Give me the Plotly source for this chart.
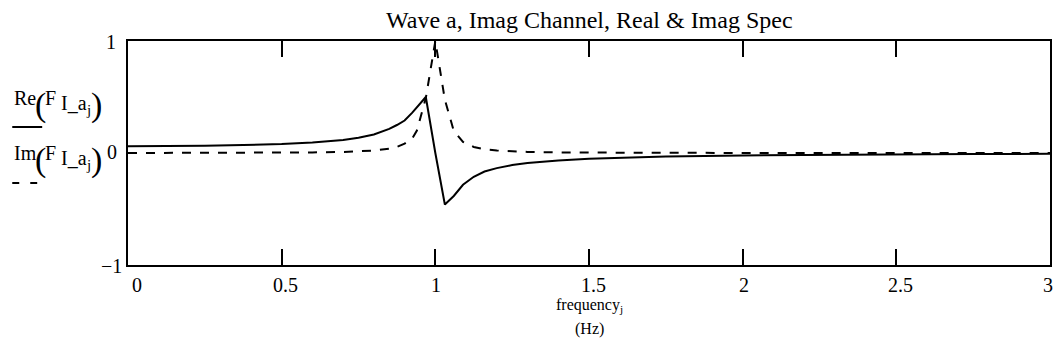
import plotly.graph_objects as go

# frequency samples (Hz) and read-off values
freq = [0.0, 0.25, 0.5, 0.6, 0.7, 0.75, 0.8, 0.85, 0.875, 0.9, 0.925, 0.94, 0.969,
        1.0, 1.031, 1.06, 1.09, 1.125, 1.16, 1.2, 1.25, 1.3, 1.4, 1.5, 1.6, 1.75,
        2.0, 2.25, 2.5, 2.75, 3.0]
re_vals = [0.06, 0.064, 0.08, 0.093, 0.117, 0.136, 0.165, 0.215, 0.25, 0.29, 0.36, 0.41, 0.50,
           0.0, -0.46, -0.384, -0.284, -0.212, -0.165, -0.135, -0.108, -0.09, -0.066, -0.052, -0.042, -0.032,
           -0.022, -0.016, -0.012, -0.009, -0.0075]
im_vals = [0.0, 0.001, 0.003, 0.005, 0.0096, 0.014, 0.022, 0.038, 0.055, 0.083, 0.13, 0.20, 0.49,
           1.0, 0.476, 0.197, 0.099, 0.054, 0.034, 0.022, 0.014, 0.0097, 0.0054, 0.0034, 0.0024, 0.0015,
           0.0008, 0.0005, 0.0003, 0.0002, 0.0002]

x_ticks = [0, 0.5, 1, 1.5, 2, 2.5, 3]
x_tick_text = ["0", "0.5", "1", "1.5", "2", "2.5", "3"]
y_ticks = [-1, 0, 1]
y_tick_text = ["\u22121", "0", "1"]

title = "Wave a, Imag Channel, Real & Imag Spec"
FONT = "Liberation Serif, Times New Roman, serif"

W, H = 1058, 363
L, R, T, B = 128, 1052, 41, 265


def px(x):
    return (x - L) / (R - L)


def py(y):
    return (B - y) / (B - T)


fig = go.Figure()
fig.add_trace(go.Scatter(x=freq, y=re_vals, mode="lines",
                         line=dict(color="black", width=2), showlegend=False))
fig.add_trace(go.Scatter(x=freq, y=im_vals, mode="lines",
                         line=dict(color="black", width=2, dash="9px,9px"), showlegend=False))

fig.update_layout(
    width=W, height=H,
    margin=dict(l=L, r=W - R, t=T, b=H - B, pad=0),
    paper_bgcolor="white", plot_bgcolor="white",
    font=dict(family=FONT, color="black", size=20),
    showlegend=False,
)
fig.update_xaxes(range=[0, 3], showgrid=False, zeroline=False, showline=True,
                 linecolor="black", linewidth=2, mirror="ticks",
                 ticks="inside", ticklen=16, tickwidth=2, tickcolor="black",
                 tickvals=x_ticks, showticklabels=False)
fig.update_yaxes(range=[-1, 1], showgrid=False, zeroline=False, showline=True,
                 linecolor="black", linewidth=2, mirror=True, ticks="",
                 tickvals=y_ticks, showticklabels=False)

ann = []


def txt(x, y, t, size, xanchor="left", yanchor="middle", **kw):
    ann.append(dict(x=px(x), y=py(y), xref="paper", yref="paper", text=t,
                    showarrow=False, xanchor=xanchor, yanchor=yanchor,
                    font=dict(size=size, family=FONT, color="black"), **kw))


x_shifts = [9, 4, 1, 5, 1, 4, -2]
for v, t, s in zip(x_ticks, x_tick_text, x_shifts):
    txt(L + v / 3 * (R - L) + s, 285, t, 20, xanchor="center")

# y tick labels (right edges / centres measured in pixels)
y_lab_pos = {1: (118, 42), 0: (119, 152), -1: (124, 266)}
for v, t in zip(y_ticks, y_tick_text):
    rx, cy = y_lab_pos[v]
    txt(rx, cy, t, 20, xanchor="right")

txt(590, 20, title, 24, xanchor="center")
txt(590, 305, "frequency<sub>j</sub>", 16, xanchor="center")
txt(590, 329, "(Hz)", 16, xanchor="center")

# axis labels Re(F I_a j) / Im(F I_a j), built piece by piece
for name, base in (("Re", 105), ("Im", 160)):
    off = base - 105
    txt(12, 98 + off, name, 20)
    txt(33, 105 + off, "(", 34)
    txt(43, 98 + off, "F", 20)
    txt(59, 103 + off, "I_a", 20)
    txt(84, 110 + off, "j", 15)
    txt(89, 105 + off, ")", 34)

fig.update_layout(annotations=ann)

fig.add_shape(type="line", xref="paper", yref="paper", x0=px(12), x1=px(42),
              y0=py(127), y1=py(127), line=dict(color="black", width=2))
fig.add_shape(type="line", xref="paper", yref="paper", x0=px(12), x1=px(37),
              y0=py(183), y1=py(183), line=dict(color="black", width=2, dash="7px,11px"))

fig.write_html("out.html")
